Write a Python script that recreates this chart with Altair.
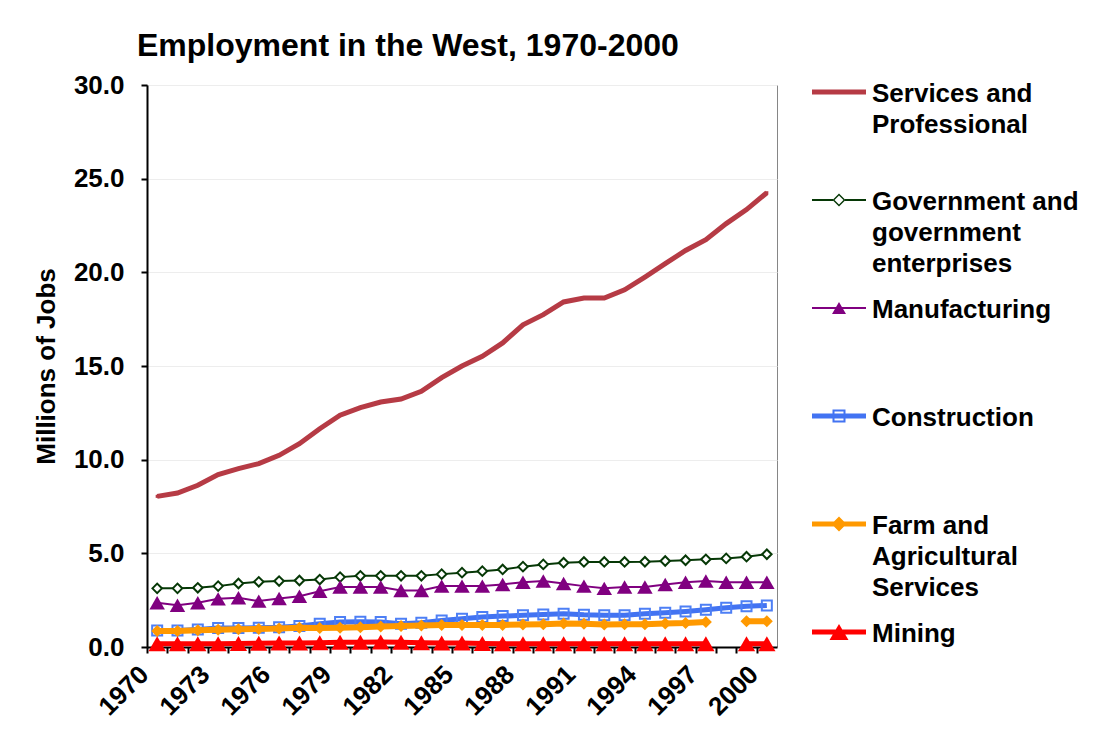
import json
import altair as alt
import pandas as pd

# ---------------- data ----------------
years = list(range(1970, 2001))

series_names = [
    "Services and Professional",
    "Government and government enterprises",
    "Manufacturing",
    "Construction",
    "Farm and Agricultural Services",
    "Mining",
]
legend_lines = [
    ["Services and", "Professional"],
    ["Government and", "government", "enterprises"],
    ["Manufacturing"],
    ["Construction"],
    ["Farm and", "Agricultural", "Services"],
    ["Mining"],
]

services = [8.04, 8.22, 8.63, 9.20, 9.52, 9.79, 10.23, 10.85, 11.65, 12.37, 12.78,
            13.08, 13.24, 13.65, 14.38, 15.00, 15.52, 16.23, 17.20, 17.74, 18.42,
            18.63, 18.63, 19.07, 19.75, 20.46, 21.17, 21.74, 22.60, 23.35, 24.25]
government = [3.13, 3.13, 3.16, 3.25, 3.39, 3.48, 3.52, 3.55, 3.60, 3.73, 3.80,
              3.80, 3.80, 3.80, 3.89, 3.97, 4.05, 4.14, 4.29, 4.41, 4.50,
              4.54, 4.54, 4.54, 4.55, 4.59, 4.63, 4.68, 4.73, 4.82, 4.95]
manufacturing = [2.36, 2.23, 2.36, 2.57, 2.63, 2.45, 2.59, 2.71, 2.98, 3.20, 3.20,
                 3.20, 3.02, 3.02, 3.25, 3.25, 3.25, 3.34, 3.46, 3.52, 3.39,
                 3.25, 3.13, 3.20, 3.20, 3.34, 3.46, 3.52, 3.46, 3.46, 3.46]
construction = [0.88, 0.88, 0.94, 1.01, 1.01, 1.03, 1.06, 1.12, 1.24, 1.33, 1.35,
                1.33, 1.24, 1.29, 1.42, 1.51, 1.60, 1.65, 1.69, 1.74, 1.78,
                1.72, 1.69, 1.69, 1.78, 1.83, 1.90, 1.99, 2.10, 2.17, 2.22]
farm = [0.85, 0.86, 0.90, 0.92, 0.95, 0.96, 0.99, 1.03, 1.02, 1.03, 1.06,
        1.10, 1.12, 1.15, 1.18, 1.18, 1.18, 1.18, 1.20, 1.22, 1.25,
        1.24, 1.20, 1.22, 1.22, 1.26, 1.28, 1.33, None, 1.38, 1.38]
mining = [0.17, 0.17, 0.17, 0.18, 0.19, 0.20, 0.21, 0.22, 0.23, 0.25, 0.26,
          0.27, 0.26, 0.23, 0.22, 0.21, 0.19, 0.18, 0.18, 0.18, 0.18,
          0.18, 0.17, 0.17, 0.17, 0.17, 0.17, 0.17, None, 0.17, 0.17]

all_values = [services, government, manufacturing, construction, farm, mining]

rows = []
for name, vals in zip(series_names, all_values):
    for yr, v in zip(years, vals):
        rows.append({"year": yr, "series": name, "value": v})
df = pd.DataFrame(rows)

# ---------------- styles ----------------
colors = ["#B63B45", "#063806", "#800080", "#4273F2", "#FF9900", "#FF0000"]
line_widths = [5, 2, 2, 5, 6, 5]
marker = [
    dict(shape="square", size=9, filled=True, fill=colors[0], strokeWidth=0),
    dict(shape="diamond", size=90, filled=True, fill="white", stroke=colors[1], strokeWidth=2),
    dict(shape="triangle-up", size=240, filled=True, fill=colors[2], strokeWidth=0),
    dict(shape="square", size=100, filled=False, stroke="#4D7FF5", strokeWidth=2),
    dict(shape="diamond", size=144, filled=True, fill=colors[4], strokeWidth=0),
    dict(shape="triangle-up", size=300, filled=True, fill=colors[5], strokeWidth=0),
]

FONT = "Liberation Sans"
W, H = 630, 562
step = W / len(years)

# legend symbols: line + marker drawn as custom SVG paths (unit = sqrt(size)/2 px)
U = 5.0
SX, SY = 22.0, 11.0


def _poly(pts, hole=False):
    if hole:
        pts = pts[::-1]
    return "M" + "L".join(f"{(x + SX) / U:.3f},{(y + SY) / U:.3f}" for x, y in pts) + "Z"


def _rect(x1, x2, t):
    return _poly([(x1, -t / 2), (x2, -t / 2), (x2, t / 2), (x1, t / 2)])


def _diamond(r, hole=False):
    return _poly([(0, -r), (r, 0), (0, r), (-r, 0)], hole)


def _square(r, hole=False):
    return _poly([(-r, -r), (r, -r), (r, r), (-r, r)], hole)


def _tri(r, h):
    return _poly([(0, -h), (r, h), (-r, h)])


HALF = 27
legend_paths = [
    _rect(-HALF, HALF, 5),
    _rect(-HALF, -6, 2) + _rect(6, HALF, 2) + _diamond(6.5) + _diamond(4.5, True),
    _rect(-HALF, HALF, 2) + _tri(7, 6),
    _rect(-HALF, HALF, 5) + _square(6.5) + _square(4.5, True),
    _rect(-HALF, HALF, 5) + _diamond(7.5),
    _rect(-HALF, HALF, 5) + _tri(9.5, 8),
]

label_expr = " : ".join(
    f"datum.label === {json.dumps(n)} ? {json.dumps(l)}" for n, l in zip(series_names, legend_lines)
) + " : datum.label"

# ---------------- encodings ----------------
x_enc = alt.X(
    "year:O",
    title=None,
    scale=alt.Scale(type="point", padding=0.5),
    axis=alt.Axis(
        labelExpr=f"(datum.value - {years[0]}) % 3 == 0 ? datum.label : ''",
        labelAngle=-45,
        labelAlign="right",
        labelBaseline="middle",
        tickOffset=-step / 2,
        labelOffset=-3,
        labelPadding=17,
        labelOverlap=False,
        grid=False,
    ),
)
y_enc = alt.Y(
    "value:Q",
    title="Millions of Jobs",
    scale=alt.Scale(domain=[0, 30], nice=False),
    axis=alt.Axis(values=[0, 5, 10, 15, 20, 25, 30], format=".1f", grid=True),
)

layers = []
for i, name in enumerate(series_names):
    base = alt.Chart(df).transform_filter(alt.datum.series == name)
    layers.append(
        base.mark_line(color=colors[i], strokeWidth=line_widths[i],
                       invalid="break-paths-show-domains").encode(x=x_enc, y=y_enc)
    )
    layers.append(base.mark_point(opacity=1, **marker[i]).encode(x=x_enc, y=y_enc))

legend = alt.Legend(
    title=None,
    orient="none",
    legendX=W + 27,
    legendY=-17,
    padding=0,
    labelExpr=label_expr,
    labelBaseline="top",
    labelFont=FONT,
    labelFontSize=26,
    labelFontWeight="bold",
    labelColor="black",
    labelLimit=400,
    labelOffset=42,
    symbolSize=100,
    symbolStrokeWidth=0,
    rowPadding=7,
    gridAlign="all",
)
legend_layer = (
    alt.Chart(df)
    .transform_filter("false")
    .mark_point(filled=True, opacity=1, size=100, strokeWidth=0)
    .encode(
        color=alt.Color("series:N", scale=alt.Scale(domain=series_names, range=colors), legend=legend),
        shape=alt.Shape("series:N", scale=alt.Scale(domain=series_names, range=legend_paths), legend=legend),
    )
)
layers.append(legend_layer)

chart = (
    alt.layer(*layers)
    .properties(
        width=W,
        height=H,
        padding={"left": 25, "top": 22, "right": 5, "bottom": 5},
        title=alt.Title(
            "Employment in the West, 1970-2000",
            anchor="start",
            frame="group",
            dx=-10,
            offset=5,
            font=FONT,
            fontSize=32,
            fontWeight="bold",
            color="black",
        ),
    )
    .configure(font=FONT, style={"guide-label": {"lineHeight": 31}})
    .configure_view(stroke="#868686", strokeWidth=1)
    .configure_axis(
        domainColor="black",
        domainWidth=2,
        tickColor="black",
        tickWidth=2,
        tickSize=6,
        labelFont=FONT,
        labelFontSize=26,
        labelFontWeight="bold",
        labelColor="black",
        titleFont=FONT,
        titleFontSize=26,
        titleFontWeight="bold",
        titleColor="black",
    )
    .configure_axisY(gridColor="#EDEDED", gridWidth=1, labelPadding=17, titlePadding=14)
)

chart.save("out.html", embed_options={"renderer": "svg", "actions": False})
